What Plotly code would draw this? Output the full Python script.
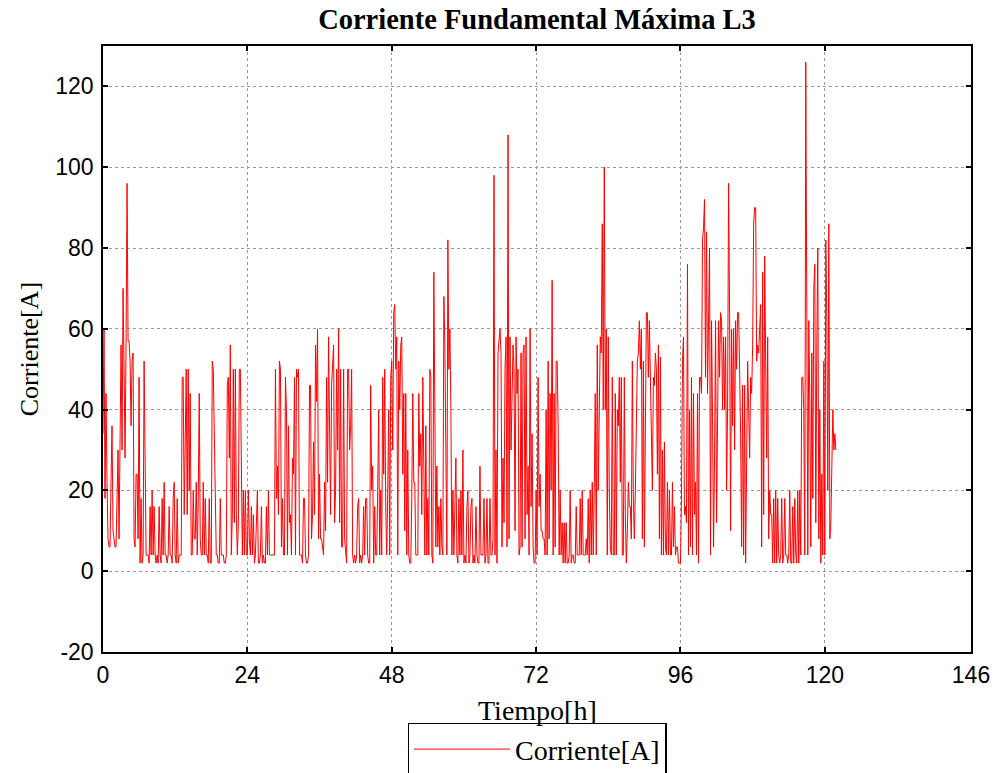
import plotly.graph_objects as go

# Hourly blocks, 6 samples per hour (10-minute interval) - Corriente[A]
h00_11 = [
    34, 60, 18, 44, 22, 8,
    6, 6, 22, 36, 10, 8,
    6, 6, 22, 30, 8, 26,
    56, 30, 70, 50, 28, 56,
    96, 57, 57, 52, 36, 52,
    54, 8, 6, 24, 24, 8,
    48, 2, 18, 2, 4, 52,
    18, 4, 4, 4, 2, 16,
    4, 20, 4, 16, 4, 2,
    4, 2, 16, 4, 2, 18,
    4, 22, 4, 4, 2, 4,
    16, 4, 4, 2, 18, 22,
]
h12_23 = [
    4, 2, 18, 2, 4, 4,
    4, 48, 48, 14, 40, 50,
    14, 50, 20, 44, 4, 4,
    20, 8, 8, 22, 4, 18,
    44, 8, 4, 4, 22, 4,
    18, 4, 4, 2, 18, 2,
    2, 52, 50, 36, 28, 4,
    4, 2, 2, 18, 4, 4,
    4, 2, 2, 4, 46, 48,
    28, 56, 4, 14, 50, 12,
    50, 14, 4, 12, 50, 50,
    16, 4, 20, 4, 20, 4,
]
h24_35 = [
    4, 20, 8, 4, 16, 4,
    14, 2, 4, 16, 20, 2,
    2, 4, 16, 2, 4, 2,
    2, 16, 4, 20, 4, 4,
    4, 4, 4, 4, 50, 18,
    26, 14, 52, 50, 6, 18,
    4, 4, 48, 40, 4, 36,
    12, 14, 4, 28, 24, 48,
    4, 50, 48, 50, 4, 4,
    4, 2, 18, 18, 4, 2,
    2, 4, 46, 46, 8, 14,
    32, 14, 56, 42, 60, 8,
]
h36_47 = [
    24, 8, 8, 6, 4, 22,
    10, 48, 22, 58, 28, 14,
    46, 54, 56, 12, 20, 50,
    30, 60, 12, 50, 6, 6,
    50, 8, 4, 2, 50, 50,
    30, 36, 50, 4, 2, 4,
    2, 4, 16, 18, 2, 4,
    2, 4, 16, 4, 18, 18,
    4, 2, 2, 46, 20, 26,
    2, 16, 4, 4, 20, 40,
    4, 20, 4, 48, 24, 50,
    16, 4, 20, 40, 4, 48,
]
h48_59 = [
    52, 30, 64, 66, 50, 58,
    4, 52, 40, 56, 58, 24,
    44, 10, 44, 4, 30, 4,
    2, 2, 18, 44, 22, 22,
    4, 4, 4, 44, 26, 34,
    14, 48, 20, 4, 36, 4,
    18, 4, 50, 48, 4, 2,
    74, 22, 6, 26, 6, 16,
    4, 18, 6, 4, 68, 56,
    36, 4, 82, 50, 60, 40,
    4, 20, 4, 18, 28, 4,
    2, 18, 4, 20, 4, 30,
]
h60_71 = [
    2, 4, 2, 16, 20, 2,
    4, 16, 18, 2, 4, 2,
    16, 4, 2, 2, 26, 4,
    4, 4, 18, 2, 4, 18,
    2, 2, 18, 4, 4, 8,
    98, 4, 30, 2, 54, 58,
    60, 54, 6, 28, 12, 50,
    58, 6, 108, 8, 58, 30,
    46, 56, 50, 10, 58, 44,
    50, 4, 6, 54, 6, 54,
    56, 8, 58, 14, 26, 4,
    60, 16, 34, 6, 2, 2,
]
h72_83 = [
    20, 4, 48, 16, 24, 10,
    10, 8, 8, 4, 40, 4,
    52, 8, 44, 20, 72, 4,
    44, 6, 52, 52, 36, 4,
    20, 4, 12, 2, 12, 2,
    12, 2, 2, 4, 20, 2,
    4, 4, 2, 2, 16, 4,
    4, 4, 18, 4, 20, 4,
    4, 4, 8, 4, 18, 2,
    20, 4, 22, 4, 20, 44,
    4, 56, 20, 38, 58, 54,
    86, 40, 100, 40, 60, 4,
]
h84_95 = [
    58, 20, 6, 4, 48, 4,
    4, 44, 4, 40, 36, 48,
    22, 48, 4, 4, 48, 14,
    2, 10, 22, 16, 16, 8,
    52, 18, 8, 20, 42, 52,
    54, 62, 50, 60, 8, 52,
    6, 52, 64, 64, 48, 62,
    48, 40, 20, 48, 46, 54,
    50, 24, 56, 8, 53, 4,
    30, 4, 32, 6, 4, 22,
    4, 20, 4, 4, 22, 6,
    16, 4, 6, 6, 2, 2,
]
h96_107 = [
    2, 18, 52, 58, 14, 16,
    12, 76, 4, 40, 6, 48,
    4, 44, 14, 22, 4, 44,
    2, 48, 48, 44, 82, 85,
    92, 48, 84, 44, 58, 80,
    4, 62, 38, 6, 28, 62,
    12, 48, 62, 48, 64, 62,
    40, 58, 40, 58, 20, 40,
    96, 64, 10, 60, 36, 60,
    30, 62, 50, 64, 64, 50,
    34, 6, 46, 4, 46, 2,
    40, 52, 40, 28, 48, 44,
]
h108_121 = [
    56, 86, 90, 90, 52, 56,
    54, 60, 66, 6, 74, 14,
    78, 52, 28, 58, 8, 20,
    14, 14, 2, 18, 2, 20,
    2, 18, 4, 2, 4, 18,
    2, 4, 18, 4, 4, 2,
    4, 20, 2, 2, 16, 2,
    18, 4, 2, 20, 2, 20,
    4, 48, 48, 40, 4, 126,
    44, 4, 62, 42, 6, 54,
    18, 70, 76, 12, 56, 80,
    8, 40, 2, 24, 4, 52,
    4, 82, 62, 20, 86, 8,
    12, 24, 40, 30, 34, 30,
]

corriente = (h00_11 + h12_23 + h24_35 + h36_47 + h48_59 + h60_71 +
             h72_83 + h84_95 + h96_107 + h108_121)
samples_per_hour = 6
tiempo = [i / samples_per_hour for i in range(len(corriente))]

x_tickvals = [0, 24, 48, 72, 96, 120, 144.3]
x_ticktext = ["0", "24", "48", "72", "96", "120", "146"]
y_tickvals = [-20, 0, 20, 40, 60, 80, 100, 120]
y_ticktext = ["-20", "0", "20", "40", "60", "80", "100", "120"]

fig = go.Figure()
fig.add_trace(go.Scatter(
    x=tiempo, y=corriente, mode="lines", name="Corriente[A]",
    line=dict(color="#ff0000", width=1),
))

axis_common = dict(
    showline=True, linecolor="black", linewidth=1.5, mirror="ticks",
    ticks="inside", ticklen=5, tickcolor="black", tickwidth=1.5,
    showgrid=True, gridcolor="#9a9a9a", gridwidth=1, griddash="dot",
    zeroline=False, automargin=False,
    tickfont=dict(family="Liberation Sans, Arial", size=23, color="black"),
)

serif = "Liberation Serif, Times New Roman"

fig.update_layout(
    width=998, height=773,
    paper_bgcolor="white", plot_bgcolor="white",
    margin=dict(l=103, r=27, t=46, b=121, autoexpand=False),
    title=dict(
        text="<b>Corriente Fundamental Máxima L3</b>",
        font=dict(family=serif, size=28.5, color="black"),
        x=0.5, xanchor="center", y=0.976, yanchor="middle", xref="paper", yref="container",
        automargin=False,
    ),
    xaxis=dict(range=[0, 144.3], tickvals=x_tickvals, ticktext=x_ticktext,
               ticklabelstandoff=2, **axis_common),
    yaxis=dict(range=[-20, 130], tickvals=y_tickvals, ticktext=y_ticktext,
               ticklabelstandoff=3, **axis_common),
    showlegend=True,
    legend=dict(
        orientation="h", x=0.5, xanchor="center", y=-0.117, yanchor="top",
        bordercolor="black", borderwidth=1.5, bgcolor="white",
        font=dict(family=serif, size=28, color="black"),
        itemwidth=96,
    ),
    annotations=[
        dict(text="Tiempo[h]", x=0.5, y=-0.096, xref="paper", yref="paper",
             xanchor="center", yanchor="middle", showarrow=False,
             font=dict(family=serif, size=28, color="black")),
        dict(text="Corriente[A]", x=-0.085, y=0.5, xref="paper", yref="paper",
             xanchor="center", yanchor="middle", showarrow=False, textangle=-90,
             font=dict(family=serif, size=26, color="black")),
    ],
)

fig.write_html("out.html", config={"displayModeBar": False},
               post_script="document.body.style.margin='0px';document.body.style.overflow='hidden';")
